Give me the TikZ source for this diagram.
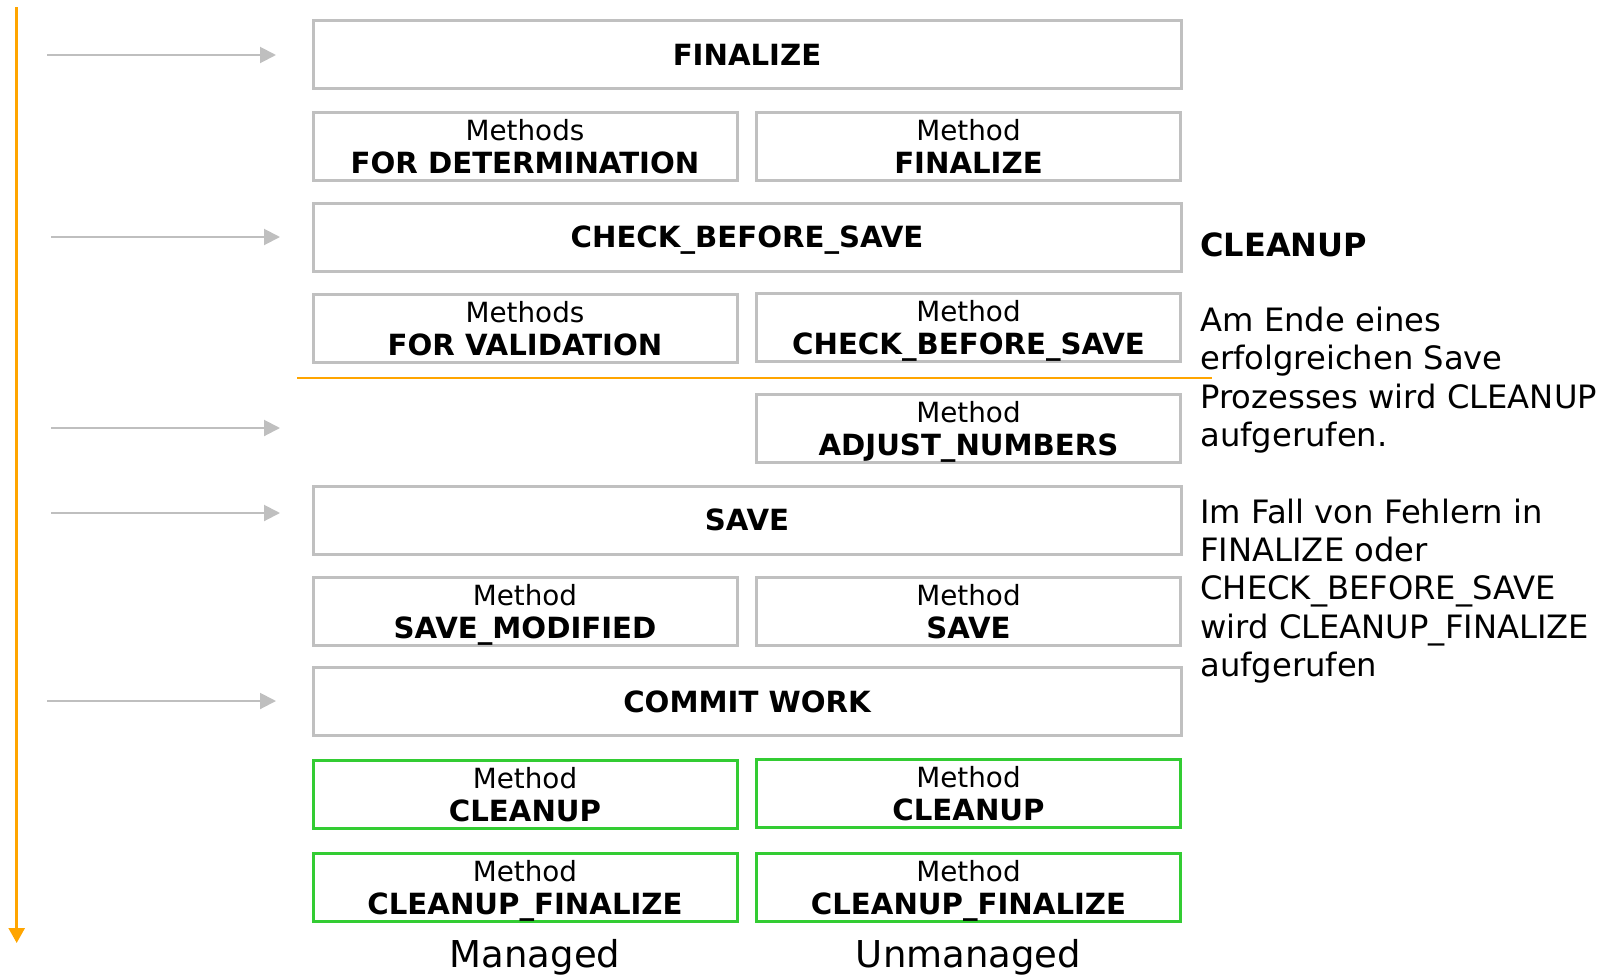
\documentclass[tikz,border=0pt]{standalone}
\usepackage{fontspec}
\setmainfont{DejaVu Sans}
\usetikzlibrary{arrows.meta}
\definecolor{boxgray}{HTML}{C0C0C0}
\definecolor{flowgray}{HTML}{BFBFBF}
\definecolor{lineorange}{HTML}{FFA500}
\definecolor{okgreen}{HTML}{33CC33}
\newcommand{\mname}[1]{{\fontsize{14.6}{16.5}\selectfont\bfseries #1}}

\begin{document}
\begin{tikzpicture}[x=0.5pt,y=-0.5pt,
		phase/.style={draw=boxgray,line width=1.5pt,minimum height=34pt,inner sep=0pt,align=center,text depth=0pt},
		full/.style={phase,minimum width=434pt,text height=10.6pt,font=\fontsize{14.6}{16.5}\selectfont\bfseries},
		half/.style={phase,minimum width=212pt,font=\fontsize{13.9}{16.5}\selectfont},
		clean/.style={half,draw=okgreen},
		flow/.style={draw=flowgray,line width=1pt,-{Triangle[length=8pt,width=8pt]}},
		note/.style={anchor=base west,inner sep=0pt,align=left,font=\fontsize{16.1}{19.2}\selectfont}]
			%%%%% START %%%%%
			\useasboundingbox (0,0) rectangle (1599,975);
			
			% time line
			\coordinate (tstart) at (16.7,7);
			\coordinate (tend) at (16.7,943);
			\draw[lineorange,line width=1.3pt,-{Triangle[length=7.5pt,width=8pt]}] (tstart) -- (tend);
			
			% phases
			\node[full] (finalize) at (747,54.5) {FINALIZE};
			\node[half] (determ) at (525,146.5) {Methods\\\mname{FOR DETERMINATION}};
			\node[half] (mfinal) at (968.5,146.5) {Method\\\mname{FINALIZE}};
			\node[full] (cbs) at (747,237) {CHECK\_BEFORE\_SAVE};
			\node[half] (valid) at (525,328) {Methods\\\mname{FOR VALIDATION}};
			\node[half] (mcbs) at (968.5,327) {Method\\\mname{CHECK\_BEFORE\_SAVE}};
			\node[half] (adjust) at (968.5,428) {Method\\\mname{ADJUST\_NUMBERS}};
			\node[full] (save) at (747,520) {SAVE};
			\node[half] (savemod) at (525,611.5) {Method\\\mname{SAVE\_MODIFIED}};
			\node[half] (msave) at (968.5,611.5) {Method\\\mname{SAVE}};
			\node[full] (commit) at (747,701.5) {COMMIT WORK};
			\node[clean] (mclean) at (525,794) {Method\\\mname{CLEANUP}};
			\node[clean] (uclean) at (968.5,793) {Method\\\mname{CLEANUP}};
			\node[clean] (mcfin) at (525,887) {Method\\\mname{CLEANUP\_FINALIZE}};
			\node[clean] (ucfin) at (968.5,887) {Method\\\mname{CLEANUP\_FINALIZE}};
			
			\draw[lineorange,line width=1pt] (297,377.5) -- (1212,377.5);
			
			\foreach \n/\y/\xa/\xb in {1/55/47/276, 2/237/51/280, 3/428/51/280, 4/513/51/280, 5/701/47/276} {
				\coordinate (from\n) at (\xa,\y);
				\coordinate (to\n) at (\xb,\y);
				\draw[flow] (from\n) -- (to\n);
			}
			
			% columns
			\node[anchor=base,inner sep=0pt,font=\fontsize{18.5}{20}\selectfont] (managed) at (535,967.7) {Managed};
			\node[anchor=base,inner sep=0pt,font=\fontsize{18.5}{20}\selectfont] (unmanaged) at (968.5,967.7) {Unmanaged};
			
			% explanation
			\node[anchor=base west,inner sep=0pt,font=\fontsize{16}{19.2}\selectfont\bfseries] (cleanhead) at (1200,256.7) {CLEANUP};
			\node[note] (cleantext) at (1200,446.7) {Am Ende eines\\erfolgreichen Save\\Prozesses wird CLEANUP\\aufgerufen.};
			\node[note] (errtext) at (1200,676.7) {Im Fall von Fehlern in\\FINALIZE oder\\CHECK\_BEFORE\_SAVE\\wird CLEANUP\_FINALIZE\\aufgerufen};
			%%%%% END %%%%%
		\end{tikzpicture}
\end{document}
